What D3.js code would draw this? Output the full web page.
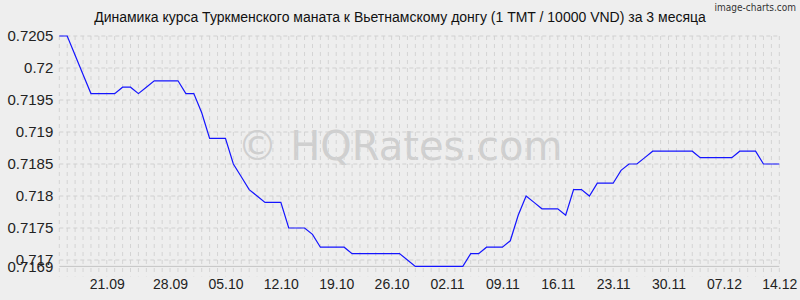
<!DOCTYPE html>
<html>
<head>
<meta charset="utf-8">
<script src="https://cdn.jsdelivr.net/npm/d3@7"></script>
<style>
  body { margin: 0; background-color: #eeeeee; }
  svg { display: block; }
</style>
</head>
<body>
<script>
// Daily TMT/VND rate (per 10000 VND), one value per point.
const values = [
  0.7205, 0.7205, 0.7202, 0.7199, 0.7196, 0.7196, 0.7196, 0.7196, 0.7197, 0.7197,
  0.7196, 0.7197, 0.7198, 0.7198, 0.7198, 0.7198, 0.7196, 0.7196, 0.7193, 0.7189,
  0.7189, 0.7189, 0.7185, 0.7183, 0.7181, 0.7180, 0.7179, 0.7179, 0.7179, 0.7175,
  0.7175, 0.7175, 0.7174, 0.7172, 0.7172, 0.7172, 0.7172, 0.7171, 0.7171, 0.7171,
  0.7171, 0.7171, 0.7171, 0.7171, 0.7170, 0.7169, 0.7169, 0.7169, 0.7169, 0.7169,
  0.7169, 0.7169, 0.7171, 0.7171, 0.7172, 0.7172, 0.7172, 0.7173, 0.7177, 0.7180,
  0.7179, 0.7178, 0.7178, 0.7178, 0.7177, 0.7181, 0.7181, 0.7180, 0.7182, 0.7182,
  0.7182, 0.7184, 0.7185, 0.7185, 0.7186, 0.7187, 0.7187, 0.7187, 0.7187, 0.7187,
  0.7187, 0.7186, 0.7186, 0.7186, 0.7186, 0.7186, 0.7187, 0.7187, 0.7187, 0.7185,
  0.7185, 0.7185
];

// X tick labels and the point index each one sits on.
const xTickIndex = [6, 14, 21, 28, 35, 42, 49, 56, 63, 70, 77, 84, 91];
const xTickLabels = ['21.09', '28.09', '05.10', '12.10', '19.10', '26.10', '02.11',
  '09.11', '16.11', '23.11', '30.11', '07.12', '14.12'];

// Y tick values and labels.
const yTicks = [0.7205, 0.72, 0.7195, 0.719, 0.7185, 0.718, 0.7175, 0.717, 0.7169];
const yTickLabels = ['0.7205', '0.72', '0.7195', '0.719', '0.7185', '0.718', '0.7175', '0.717', '0.7169'];

const title = 'Динамика курса Туркменского маната к Вьетнамскому донгу (1 TMT / 10000 VND) за 3 месяца';

const width = 800;
const height = 300;
const plotLeft = 59.3;
const plotRight = 779.3;
const plotTop = 36;
const plotBottom = 266.4;
const font = 'Liberation Sans, Arial, sans-serif';

// Scales.
const xScale = d3.scaleLinear()
  .domain([0, values.length - 1])
  .range([plotLeft, plotRight]);
const yScale = d3.scaleLinear()
  .domain([0.7169, 0.7205])
  .range([plotBottom, plotTop]);

const svg = d3.select('body')
  .append('svg')
  .attr('width', width)
  .attr('height', height)
  .style('background-color', '#eeeeee');

// Watermark, under the grid.
svg.append('text')
  .attr('x', 400)
  .attr('y', 160)
  .attr('text-anchor', 'middle')
  .style('font-family', 'DejaVu Sans, Verdana, sans-serif')
  .style('font-size', '40px')
  .style('fill', '#cfcfcf')
  .text('© HQRates.com');

// Vertical grid, one dashed line per point.
svg.append('g')
  .selectAll('line')
  .data(values)
  .enter()
  .append('line')
  .attr('x1', (d, i) => xScale(i))
  .attr('x2', (d, i) => xScale(i))
  .attr('y1', plotTop)
  .attr('y2', plotBottom + 10)
  .attr('stroke', '#d4d4d4')
  .attr('stroke-dasharray', '4,4');

// Horizontal grid.
svg.append('g')
  .selectAll('line')
  .data(yTicks)
  .enter()
  .append('line')
  .attr('x1', plotLeft)
  .attr('x2', plotRight)
  .attr('y1', (d) => yScale(d))
  .attr('y2', (d) => yScale(d))
  .attr('stroke', (d, i) => (i == yTicks.length - 1) ? '#c4c4c4' : '#d0d0d0')
  .attr('stroke-dasharray', (d, i) => (i == yTicks.length - 1) ? null : '4,3');

// Axes.
const xAxis = d3.axisBottom(xScale)
  .tickValues(xTickIndex)
  .tickFormat((d, i) => xTickLabels[i])
  .tickSize(0)
  .tickPadding(13);
const yAxis = d3.axisLeft(yScale)
  .tickValues(yTicks)
  .tickFormat((d, i) => yTickLabels[i])
  .tickSize(0)
  .tickPadding(6);

const gx = svg.append('g')
  .attr('transform', 'translate(0, ' + plotBottom + ')')
  .call(xAxis);
const gy = svg.append('g')
  .attr('transform', 'translate(' + plotLeft + ', 0)')
  .call(yAxis);

[gx, gy].forEach((g) => {
  g.select('.domain').remove();
  g.selectAll('text')
    .style('font-family', font)
    .style('fill', '#222222');
});
gx.selectAll('text').style('font-size', '14px');
gy.selectAll('text').style('font-size', '15px');

// Rate line.
const line = d3.line()
  .x((d, i) => xScale(i))
  .y((d) => yScale(d));

svg.append('path')
  .datum(values)
  .attr('d', line)
  .attr('fill', 'none')
  .attr('stroke', '#1515ff')
  .attr('stroke-width', 1.2);

// Title.
svg.append('text')
  .attr('x', 400)
  .attr('y', 22)
  .attr('text-anchor', 'middle')
  .style('font-family', font)
  .style('font-size', '14px')
  .style('fill', '#111111')
  .text(title);

svg.append('text')
  .attr('x', 796)
  .attr('y', 11)
  .attr('text-anchor', 'end')
  .style('font-family', 'Liberation Sans Narrow, DejaVu Sans Condensed, sans-serif')
  .style('font-size', '10px')
  .style('fill', '#333333')
  .text('image-charts.com');
</script>
</body>
</html>
